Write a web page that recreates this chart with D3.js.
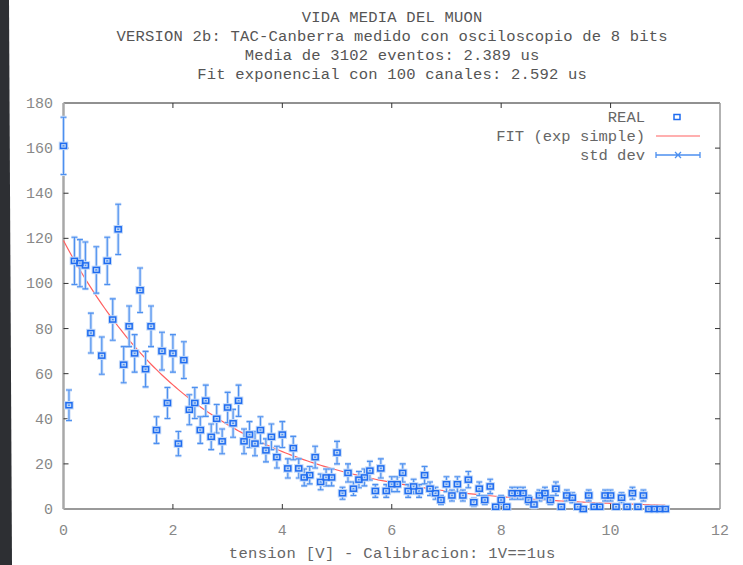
<!DOCTYPE html>
<html>
<head>
<meta charset="utf-8">
<script src="https://cdn.jsdelivr.net/npm/d3@7"></script>
<style>
body { margin: 0; background: #fff; }
text { font-family: "Liberation Mono", "DejaVu Sans Mono", monospace; }
</style>
</head>
<body>
<svg id="svg" width="743" height="565"></svg>
<script>
const titleLines = [
  'VIDA MEDIA DEL MUON',
  'VERSION 2b: TAC-Canberra medido con osciloscopio de 8 bits',
  'Media de 3102 eventos: 2.389 us',
  'Fit exponencial con 100 canales: 2.592 us'
];
const xLabel = 'tension [V] - Calibracion: 1V==1us';
const xTicks = [0, 2, 4, 6, 8, 10, 12];
const yTicks = [0, 20, 40, 60, 80, 100, 120, 140, 160, 180];
const legendLabels = ['REAL', 'FIT (exp simple)', 'std dev'];

// histogram channels, 0.1 V wide, counts
const binWidth = 0.1;
const counts = [
  161, 46, 110, 109, 108, 78, 106, 68, 110, 84,
  124, 64, 81, 69, 97, 62, 81, 35, 70, 47,
  69, 29, 66, 44, 47, 35, 48, 32, 40, 30,
  45, 38, 48, 30, 33, 29, 35, 26, 32, 23,
  33, 18, 27, 18, 14, 15, 23, 12, 14, 14,
  25, 7, 16, 9, 13, 14, 17, 8, 18, 8,
  11, 11, 16, 8, 10, 8, 15, 9, 7, 4,
  11, 6, 11, 6, 13, 3, 9, 4, 10, 1,
  4, 1, 7, 7, 7, 4, 2, 6, 7, 4,
  9, 1, 6, 5, 1, 0, 6, 1, 1, 6,
  6, 1, 5, 1, 7, 1, 6, 0, 0, 0, 0
];

// exponential fit  A * exp(-t / tau)
const fitA = 119;
const fitTau = 2.592;

const svg = d3.select('#svg');

const x = d3.scaleLinear().domain([0, 12]).range([63.5, 720]);
const y = d3.scaleLinear().domain([0, 180]).range([509, 103]);

// std dev of a count is sqrt(count)
const data = counts.map((c, i) => ({x: i * binWidth, v: c, err: Math.sqrt(c)}));

// dark edge of the screenshot
svg.append('path').
attr('d', 'M0,0 L9,0 L12,565 L0,565 Z').
attr('fill', '#2d2f33');

// frame
svg.append('line').attr('x1', x(0)).attr('x2', x(12)).attr('y1', y(180)).attr('y2', y(180)).
attr('stroke', '#222').attr('stroke-width', 1);
svg.append('line').attr('x1', x(12)).attr('x2', x(12)).attr('y1', y(180)).attr('y2', y(0)).
attr('stroke', '#999').attr('stroke-width', 1.5);
svg.append('line').attr('x1', x(0)).attr('x2', x(12)).attr('y1', y(0)).attr('y2', y(0)).
attr('stroke', '#9a9a9a').attr('stroke-width', 2);
svg.append('line').attr('x1', x(0)).attr('x2', x(0)).attr('y1', y(180)).attr('y2', y(0)).
attr('stroke', '#a8a8a8').attr('stroke-width', 2.5);

// ticks (inward, mirrored)
const tickG = svg.append('g').attr('stroke', '#333').attr('stroke-width', 1);
xTicks.slice(1, -1).forEach(t => {
  tickG.append('line').attr('x1', x(t)).attr('x2', x(t)).attr('y1', y(0)).attr('y2', y(0) - 5);
  tickG.append('line').attr('x1', x(t)).attr('x2', x(t)).attr('y1', y(180)).attr('y2', y(180) + 5);
});
yTicks.slice(1, -1).forEach(t => {
  tickG.append('line').attr('x1', x(0)).attr('x2', x(0) + 5).attr('y1', y(t)).attr('y2', y(t));
  tickG.append('line').attr('x1', x(12)).attr('x2', x(12) - 5).attr('y1', y(t)).attr('y2', y(t));
});

// tick labels
svg.selectAll('.xlab').
data(xTicks).
enter().
append('text').
attr('class', 'xlab').
attr('x', d => x(d)).
attr('y', 535).
attr('text-anchor', 'middle').
attr('font-size', 15).
attr('fill', '#888').
text(d => d);

svg.selectAll('.ylab').
data(yTicks).
enter().
append('text').
attr('class', 'ylab').
attr('x', 53).
attr('y', d => y(d) + 5).
attr('text-anchor', 'end').
attr('font-size', 15).
attr('fill', '#888').
text(d => d);

// titles
svg.selectAll('.title').
data(titleLines).
enter().
append('text').
attr('class', 'title').
attr('x', 392).
attr('y', (d, i) => 22 + i * 19).
attr('text-anchor', 'middle').
attr('font-size', 15.5).
attr('fill', '#555').
attr('textLength', d => d.length * 9.5).
text(d => d);

svg.append('text').
attr('x', 392).
attr('y', 558).
attr('text-anchor', 'middle').
attr('font-size', 15.5).
attr('fill', '#666').
attr('textLength', xLabel.length * 9.6).
text(xLabel);

// fit curve
const fitLine = d3.line().x(d => x(d)).y(d => y(fitA * Math.exp(-d / fitTau)));
svg.append('path').
datum(d3.range(0, 11.001, 0.05)).
attr('d', fitLine).
attr('fill', 'none').
attr('stroke', '#ff6060').
attr('stroke-width', 1.2);

// error bars: soft halo then core line
const errPath = d => {
  const cx = x(d.x), cy = y(d.v), y0 = y(d.v - d.err), y1 = y(d.v + d.err);
  return `M${cx},${y0}V${y1}M${cx - 3},${y0}H${cx + 3}M${cx - 3},${y1}H${cx + 3}` +
    `M${cx - 3},${cy - 3}L${cx + 3},${cy + 3}M${cx - 3},${cy + 3}L${cx + 3},${cy - 3}`;
};
[['#c3d9f8', 3], ['#4d90f0', 1.1]].forEach(([col, w]) => {
  svg.append('g').
  attr('stroke', col).
  attr('stroke-width', w).
  attr('fill', 'none').
  selectAll('path').
  data(data).
  enter().
  append('path').
  attr('d', errPath);
});

// data squares
[['#c3d9f8', 3.5], ['#1f6cf0', 1.5]].forEach(([col, w]) => {
  svg.append('g').
  selectAll('rect').
  data(data).
  enter().
  append('rect').
  attr('x', d => x(d.x) - 3).
  attr('y', d => y(d.v) - 2.5).
  attr('width', 6).
  attr('height', 5).
  attr('fill', 'none').
  attr('stroke', col).
  attr('stroke-width', w);
});

// legend
svg.selectAll('.leg').
data(legendLabels).
enter().
append('text').
attr('class', 'leg').
attr('x', 645).
attr('y', (d, i) => 122 + i * 19).
attr('text-anchor', 'end').
attr('font-size', 15.5).
attr('fill', '#666').
text(d => d);

svg.append('rect').attr('x', 674).attr('y', 114.5).attr('width', 6).attr('height', 5).
attr('fill', 'none').attr('stroke', '#1f6cf0').attr('stroke-width', 1.5);
svg.append('line').attr('x1', 656).attr('x2', 700).attr('y1', 136).attr('y2', 136).
attr('stroke', '#ff6060').attr('stroke-width', 1.2);
svg.append('path').
attr('d', 'M656,155H700M656,152V158M700,152V158M675,152L681,158M675,158L681,152').
attr('stroke', '#4d90f0').attr('stroke-width', 1.3).attr('fill', 'none');
</script>
</body>
</html>
